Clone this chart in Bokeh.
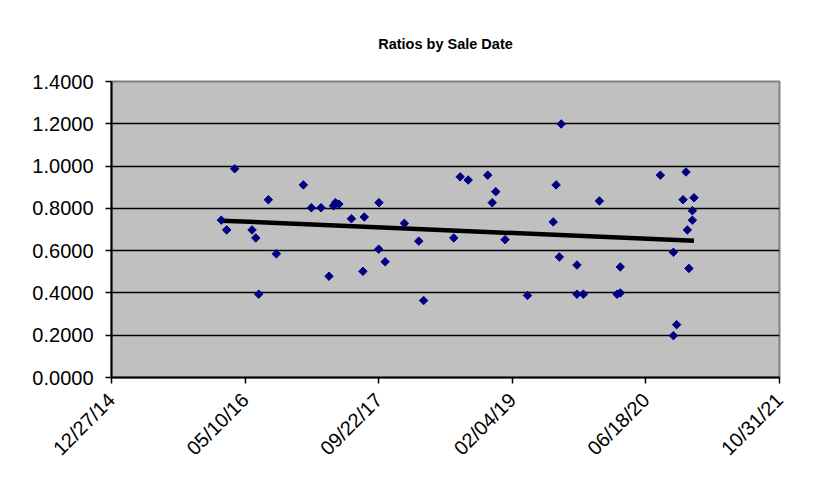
import math
import numpy as np
import pandas as pd
from bokeh.plotting import figure
from bokeh.models import (FixedTicker, DatetimeTickFormatter, NumeralTickFormatter,
                          ColumnDataSource, Range1d)
from bokeh.embed import file_html
from bokeh.resources import INLINE

# ---- data ----
sale_dates = [
    "2016-02-11", "2016-03-02", "2016-04-01", "2016-06-05", "2016-06-19", "2016-06-30",
    "2016-08-05", "2016-09-04", "2016-12-14", "2017-01-13", "2017-02-18", "2017-03-20",
    "2017-04-06", "2017-04-13", "2017-04-26", "2017-06-12", "2017-07-25", "2017-07-30",
    "2017-09-22", "2017-09-23", "2017-10-16", "2017-12-27", "2018-02-19", "2018-03-09",
    "2018-06-30", "2018-07-24", "2018-08-23", "2018-11-04", "2018-11-21", "2018-12-04",
    "2019-01-08", "2019-04-02", "2019-07-07", "2019-07-18", "2019-07-30", "2019-08-06",
    "2019-10-04", "2019-10-04", "2019-10-28", "2019-12-27", "2020-03-02", "2020-03-14",
    "2020-03-14", "2020-08-11", "2020-09-29", "2020-09-29", "2020-10-11", "2020-11-04",
    "2020-11-15", "2020-11-20", "2020-11-26", "2020-12-09", "2020-12-09", "2020-12-15",
]
ratios = [
    0.744, 0.698, 0.987, 0.698, 0.660, 0.394,
    0.841, 0.585, 0.911, 0.803, 0.803, 0.479,
    0.812, 0.827, 0.820, 0.751, 0.502, 0.759,
    0.607, 0.827, 0.547, 0.729, 0.645, 0.364,
    0.660, 0.949, 0.934, 0.957, 0.827, 0.879,
    0.652, 0.388, 0.736, 0.911, 0.570, 1.199,
    0.532, 0.394, 0.394, 0.835, 0.394, 0.400,
    0.523, 0.957, 0.592, 0.198, 0.250, 0.841,
    0.972, 0.698, 0.516, 0.789, 0.744, 0.850,
]
x_tick_dates = ["2014-12-27", "2016-05-10", "2017-09-22", "2019-02-04", "2020-06-18", "2021-10-31"]
y_ticks = [0.0, 0.2, 0.4, 0.6, 0.8, 1.0, 1.2, 1.4]
title_text = "Ratios by Sale Date"

# ---- build ----
dts = pd.to_datetime(sale_dates)
src = ColumnDataSource(dict(x=dts, y=ratios))

# linear trend line (least squares on date vs ratio)
days = (dts - dts.min()).days.values.astype(float)
slope, intercept = np.polyfit(days, np.array(ratios), 1)
trend_x = [dts.min(), dts.max()]
trend_y = [intercept, intercept + slope * days.max()]

tick_ms = [pd.Timestamp(d).value // 10**6 for d in x_tick_dates]

FONT = "Liberation Sans"

p = figure(width=825, height=488, x_axis_type="datetime",
           x_range=Range1d(pd.Timestamp(x_tick_dates[0]), pd.Timestamp(x_tick_dates[-1])),
           y_range=Range1d(0, 1.4),
           output_backend="svg", toolbar_location=None,
           min_border_left=111, min_border_right=46, min_border_top=81, min_border_bottom=111)

p.title.text = title_text
p.title.align = "center"
p.title.text_font = FONT
p.title.text_font_size = "14.5px"
p.title.text_font_style = "bold"
p.title.text_color = "black"
p.title.standoff = 60

p.background_fill_color = "#C0C0C0"
p.border_fill_color = "white"
p.outline_line_color = "#808080"
p.outline_line_width = 2

# axes
p.xaxis.ticker = FixedTicker(ticks=tick_ms)
fmt = "%m/%d/%y"
p.xaxis.formatter = DatetimeTickFormatter(milliseconds=fmt, seconds=fmt, minsec=fmt, minutes=fmt,
                                          hourmin=fmt, hours=fmt, days=fmt, months=fmt, years=fmt)
p.xaxis.major_label_orientation = math.pi / 4
p.yaxis.ticker = FixedTicker(ticks=y_ticks)
p.yaxis.formatter = NumeralTickFormatter(format="0.0000")
for ax in (p.xaxis, p.yaxis):
    ax.axis_line_color = "black"
    ax.axis_line_width = 2
    ax.major_tick_line_color = "black"
    ax.major_tick_line_width = 1.5
    ax.major_tick_out = 6
    ax.major_tick_in = 0
    ax.minor_tick_line_color = None
    ax.major_label_text_font = FONT
    ax.major_label_text_font_size = "20px"
    ax.major_label_text_color = "black"
p.yaxis.major_label_standoff = 12
p.xaxis.major_label_standoff = 13

# grid
p.xgrid.grid_line_color = None
p.ygrid.ticker = FixedTicker(ticks=y_ticks[1:-1])
p.ygrid.grid_line_color = "black"
p.ygrid.grid_line_width = 1.5

# trend line and points
p.line(trend_x, trend_y, line_color="black", line_width=4.5)
p.scatter("x", "y", source=src, marker="square", angle=math.pi / 4, size=6,
          fill_color="#000080", line_color="#000080")

open("out.html", "w").write(file_html(p, INLINE))
